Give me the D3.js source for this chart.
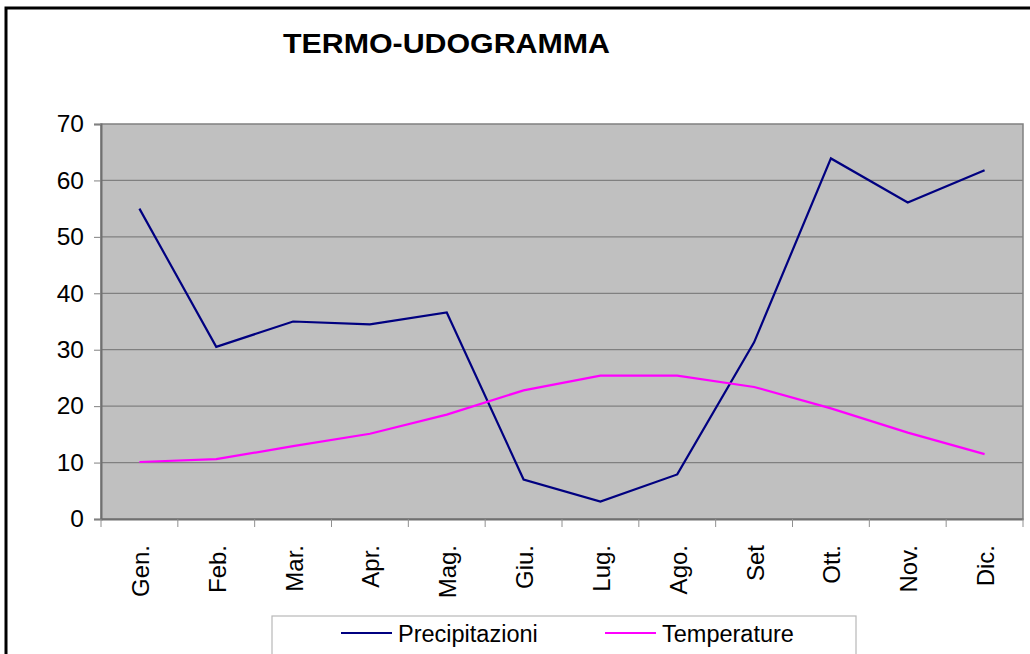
<!DOCTYPE html>
<html><head><meta charset="utf-8">
<script src="https://cdn.jsdelivr.net/npm/d3@7"></script>
<style>body{margin:0;background:#fff}svg{display:block}text{font-family:Arial,"Liberation Sans",sans-serif}</style>
</head><body>
<script>
const months = ["Gen.","Feb.","Mar.","Apr.","Mag.","Giu.","Lug.","Ago.","Set","Ott.","Nov.","Dic."];
const precipitazioni = [55, 30.5, 35, 34.5, 36.6, 7, 3.1, 7.9, 31.3, 63.9, 56.1, 61.8];
const temperature = [10.1, 10.6, 12.9, 15.1, 18.5, 22.8, 25.4, 25.4, 23.4, 19.6, 15.3, 11.5];
const yTicks = [0,10,20,30,40,50,60,70];
const seriesNames = ["Precipitazioni","Temperature"];
const colors = ["#000080","#FF00FF"];

const W=1030,H=654;
const svg=d3.select("body").append("svg").attr("width",W).attr("height",H);
const L=101,R=1023,T=124,B=519;
const x=d3.scaleBand().domain(months).range([L,R]);
const y=d3.scaleLinear().domain([0,70]).range([B,T]);

// frame
svg.append("rect").attr("x",6).attr("y",8).attr("width",1060).attr("height",700)
  .attr("fill","none").attr("stroke","#000").attr("stroke-width",3);

// title
svg.append("text").attr("x",283).attr("y",53)
  .attr("font-size",28).attr("font-weight","bold")
  .attr("textLength",327).attr("lengthAdjust","spacingAndGlyphs").text("TERMO-UDOGRAMMA");

// plot area
svg.append("rect").attr("x",L).attr("y",T).attr("width",R-L).attr("height",B-T)
  .attr("fill","#C0C0C0").attr("stroke","#808080").attr("stroke-width",1.5);

// gridlines
svg.append("g").selectAll("line").data(yTicks.filter(d=>d>0&&d<70)).join("line")
  .attr("x1",L).attr("x2",R).attr("y1",d=>y(d)).attr("y2",d=>y(d))
  .attr("stroke","#808080").attr("stroke-width",1.2);

// y axis
const ya=svg.append("g").attr("transform",`translate(${L},0)`)
  .call(d3.axisLeft(y).tickValues(yTicks).tickSize(7).tickPadding(10));
ya.select(".domain").attr("stroke","#707070").attr("stroke-width",2);
ya.selectAll(".tick line").attr("stroke","#808080");
ya.selectAll(".tick text").attr("font-size",24.5).attr("fill","#000")
  .attr("font-family","Arial,'Liberation Sans',sans-serif");

// x axis
const xa=svg.append("g").attr("transform",`translate(0,${B})`)
  .call(d3.axisBottom(x).tickSize(0).tickFormat(""));
xa.select(".domain").attr("stroke","#707070").attr("stroke-width",2);
const bounds=months.map(m=>x(m)).concat([R]);
svg.append("g").selectAll("line").data(bounds).join("line")
  .attr("x1",d=>d).attr("x2",d=>d).attr("y1",B).attr("y2",B+8)
  .attr("stroke","#909090").attr("stroke-width",1);
svg.append("g").selectAll("text").data(months).join("text")
  .attr("transform",d=>`translate(${x(d)+x.bandwidth()/2+9.5},545) rotate(-90)`)
  .attr("text-anchor","end").attr("font-size",24).text(d=>d);

// lines
const line=d3.line().x((d,i)=>x(months[i])+x.bandwidth()/2).y(d=>y(d));
[precipitazioni,temperature].forEach((s,i)=>{
  svg.append("path").datum(s).attr("d",line).attr("fill","none")
    .attr("stroke",colors[i]).attr("stroke-width",2.2).attr("stroke-linejoin","miter");
});

// legend
svg.append("rect").attr("x",272).attr("y",616).attr("width",584).attr("height",60)
  .attr("fill","#fff").attr("stroke","#b8b8b8").attr("stroke-width",1.2);
const lx=[341,605];
seriesNames.forEach((n,i)=>{
  svg.append("line").attr("x1",lx[i]).attr("x2",lx[i]+51).attr("y1",633).attr("y2",633)
    .attr("stroke",colors[i]).attr("stroke-width",2);
  svg.append("text").attr("x",lx[i]+57).attr("y",642).attr("font-size",23.5).text(n);
});
</script>
</body></html>
